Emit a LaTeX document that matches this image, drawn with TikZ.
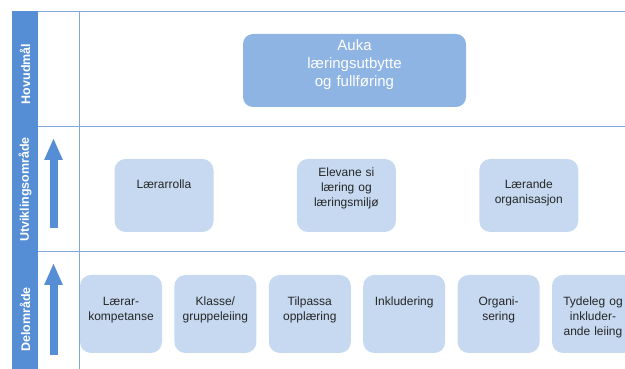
\documentclass[tikz,border=0pt]{standalone}
\usepackage{fontspec}
\setmainfont{Liberation Sans}
\usepackage{tikz}
\usetikzlibrary{arrows.meta}
\usetikzlibrary{positioning}

\definecolor{barblue}{HTML}{558ED5}
\definecolor{lineblue}{HTML}{7FA7DD}
\definecolor{goalblue}{HTML}{8EB4E3}
\definecolor{boxblue}{HTML}{C6D9F1}
\definecolor{boxtext}{HTML}{262626}

\begin{document}
\begin{tikzpicture}
        [x=1pt,y=1pt,
        goal/.style={rectangle,rounded corners=10pt,fill=goalblue,text=white,minimum width=223pt,minimum height=73pt,
inner sep=0pt,text width=210pt,text height=17pt,text depth=56pt,align=center,font=\fontsize{15}{18}\selectfont},
        area/.style={rectangle,rounded corners=11pt,fill=boxblue,text=boxtext,minimum width=99pt,minimum height=73pt,
inner sep=0pt,text width=93pt,text height=30pt,text depth=43pt,align=center,font=\fontsize{12}{15}\selectfont},
        sub/.style={area,minimum width=82pt,minimum height=78pt,text width=80pt,text height=31pt,text depth=47pt},
        lane/.style={rotate=90,text=white,font=\bfseries\fontsize{12.5}{15}\selectfont},
        gridline/.style={draw=lineblue,line width=0.8pt},
        up/.style={-{Triangle[width=17pt,length=22pt]},draw=barblue,fill=barblue,line width=8pt}]

\useasboundingbox (0,0) rectangle (625,369);

% Raster %
\fill[barblue] (12,0) rectangle (38,358);
\draw[gridline] (38,358) -- (625,358);
\draw[gridline] (38,243) -- (625,243);
\draw[gridline] (38,118) -- (625,118);
\draw[gridline] (79,358) -- (79,0);

\node[lane] (l1) at (25,295) {Hovudmål};
\node[lane] (l2) at (25,179.5) {Utviklingsområde};
\node[lane] (l3) at (25,49.5) {Delområde};

% Pilar %
\coordinate (a1) at (53.5,141);
\coordinate (b1) at (53.5,231);
\coordinate (a2) at (53.5,14);
\coordinate (b2) at (53.5,106);
\foreach \a in {1,2}
        \draw[up] (a\a) -- (b\a);

% Hovudmaal %
\node[goal] (g) at (354.5,298.5) {Auka\\læringsutbytte\\og fullføring};

% Utviklingsomraade %
\begin{scope}[node distance=83pt]
                \node[area] (o1) at (164,173.5) {Lærarrolla};
                \node[area,text height=18pt,text depth=55pt] (o2) [right=of o1] {Elevane si\\læring og\\læringsmiljø};
                \node[area] (o3) [right=of o2] {Lærande\\organisasjon};
\end{scope}

% Delomraade %
\node[sub] (d1) at (121,55) {Lærar-\\kompetanse};
\foreach \t [count=\i from 2, remember=\i as \p (initially 1)] in
        {{Klasse/\\gruppeleiing},{Tilpassa\\opplæring},{Inkludering},{Organi-\\sering},{Tydeleg og\\inkluder-\\ande leiing}}
        {\node[sub] (d\i) [right=12pt of d\p] {\t};}
\end{tikzpicture}
\end{document}
